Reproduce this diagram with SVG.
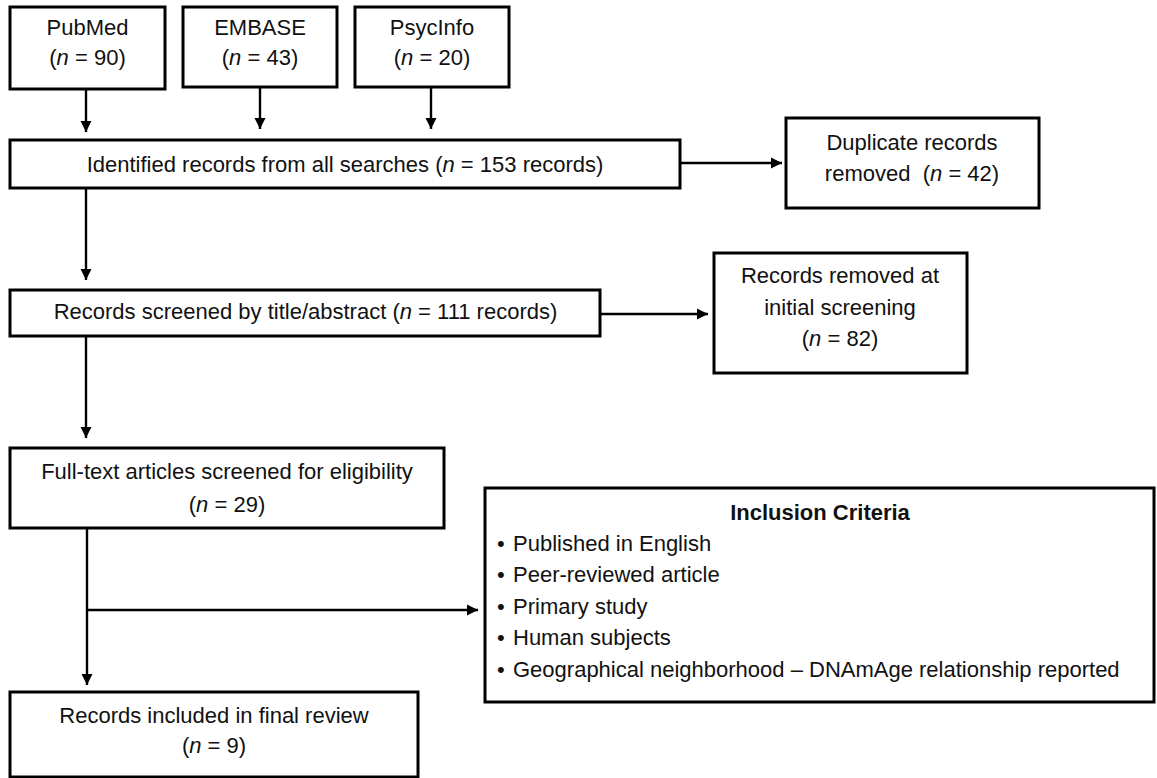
<svg xmlns="http://www.w3.org/2000/svg" width="1157" height="778" viewBox="0 0 1157 778">
<style>
.box{fill:#fff;stroke:#000;stroke-width:3}
text{font-family:"Liberation Sans",Arial,sans-serif;font-size:22px;fill:#111}
.c{text-anchor:middle}
.b{font-weight:bold}
.i{font-style:italic}
.con{stroke:#000;stroke-width:2.4;fill:none}
</style>
<defs>
<marker id="ah" markerUnits="userSpaceOnUse" markerWidth="12" markerHeight="12" refX="11" refY="6" orient="auto">
<path d="M0,0.5 L11,6 L0,11.5 z" fill="#000"/>
</marker>
</defs>
<rect width="1157" height="778" fill="#fff"/>
<g id="connectors">
<line class="con" x1="86" y1="89" x2="86" y2="132" marker-end="url(#ah)"/>
<line class="con" x1="260" y1="87" x2="260" y2="129" marker-end="url(#ah)"/>
<line class="con" x1="431" y1="87" x2="431" y2="129" marker-end="url(#ah)"/>
<line class="con" x1="680" y1="163" x2="782" y2="163" marker-end="url(#ah)"/>
<line class="con" x1="86" y1="188" x2="86" y2="280" marker-end="url(#ah)"/>
<line class="con" x1="600" y1="314" x2="708" y2="314" marker-end="url(#ah)"/>
<line class="con" x1="86" y1="336" x2="86" y2="438" marker-end="url(#ah)"/>
<line class="con" x1="87" y1="528" x2="87" y2="685" marker-end="url(#ah)"/>
<line class="con" x1="87" y1="610" x2="478" y2="610" marker-end="url(#ah)"/>
</g>
<g id="pubmed">
<rect class="box" x="10" y="7" width="155" height="82"/>
<text class="c" x="87.5" y="35">PubMed</text>
<text class="c" x="87.5" y="65">(<tspan class="i">n</tspan> = 90)</text>
</g>
<g id="embase">
<rect class="box" x="183" y="7" width="154" height="80"/>
<text class="c" x="260" y="35">EMBASE</text>
<text class="c" x="260" y="65">(<tspan class="i">n</tspan> = 43)</text>
</g>
<g id="psycinfo">
<rect class="box" x="355" y="7" width="154" height="80"/>
<text class="c" x="432" y="35">PsycInfo</text>
<text class="c" x="432" y="65">(<tspan class="i">n</tspan> = 20)</text>
</g>
<g id="identified">
<rect class="box" x="10" y="140" width="670" height="48"/>
<text class="c" x="345" y="172">Identified records from all searches (<tspan class="i">n</tspan> = 153 records)</text>
</g>
<g id="duplicates">
<rect class="box" x="786" y="118" width="253" height="90"/>
<text class="c" x="912" y="150">Duplicate records</text>
<text class="c" x="912" y="181" xml:space="preserve">removed  (<tspan class="i">n</tspan> = 42)</text>
</g>
<g id="screened">
<rect class="box" x="10" y="290" width="590" height="46"/>
<text class="c" x="305.5" y="319">Records screened by title/abstract (<tspan class="i">n</tspan> = 111 records)</text>
</g>
<g id="removed">
<rect class="box" x="714" y="253" width="253" height="120"/>
<text class="c" x="840" y="283">Records removed at</text>
<text class="c" x="840" y="315">initial screening</text>
<text class="c" x="840" y="346">(<tspan class="i">n</tspan> = 82)</text>
</g>
<g id="fulltext">
<rect class="box" x="10" y="448" width="434" height="80"/>
<text class="c" x="227" y="479">Full-text articles screened for eligibility</text>
<text class="c" x="227" y="512">(<tspan class="i">n</tspan> = 29)</text>
</g>
<g id="inclusion">
<rect class="box" x="485" y="488" width="669" height="214"/>
<text class="c b" x="820" y="520">Inclusion Criteria</text>
<text x="497" y="551">•<tspan x="513">Published in English</tspan></text>
<text x="497" y="582">•<tspan x="513">Peer-reviewed article</tspan></text>
<text x="497" y="614">•<tspan x="513">Primary study</tspan></text>
<text x="497" y="645">•<tspan x="513">Human subjects</tspan></text>
<text x="497" y="677">•<tspan x="513">Geographical neighborhood – DNAmAge relationship reported</tspan></text>
</g>
<g id="final">
<rect class="box" x="10" y="692" width="408" height="85"/>
<text class="c" x="214" y="723">Records included in final review</text>
<text class="c" x="214" y="753">(<tspan class="i">n</tspan> = 9)</text>
</g>
</svg>
